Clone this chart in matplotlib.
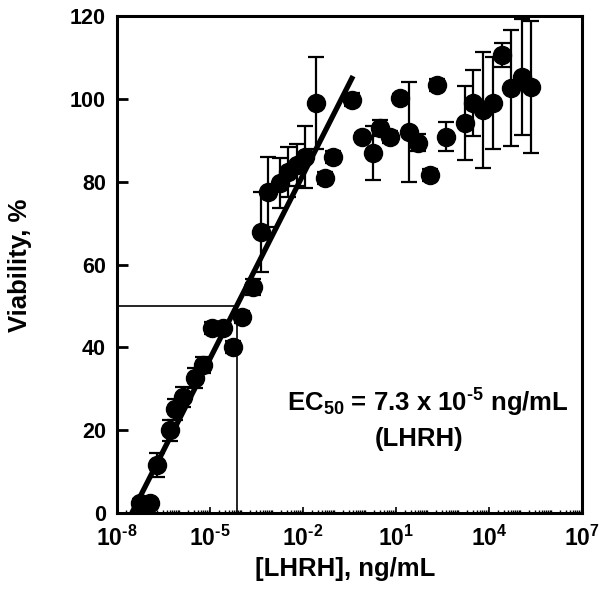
import matplotlib
matplotlib.use("Agg")
import matplotlib.pyplot as plt
from matplotlib.ticker import LogLocator, FixedLocator, NullFormatter

plt.rcParams['font.family'] = ['Liberation Sans', 'DejaVu Sans']
plt.rcParams['font.weight'] = 'bold'
plt.rcParams['mathtext.fontset'] = 'custom'
plt.rcParams['mathtext.rm'] = 'Liberation Sans:bold'
plt.rcParams['mathtext.it'] = 'Liberation Sans:bold'
plt.rcParams['mathtext.bf'] = 'Liberation Sans:bold'

conc = [5.5e-8, 1.15e-7, 1.95e-7, 5.1e-7, 7.4e-7, 1.35e-6, 3.3e-6, 5.9e-6, 1.15e-5, 2.6e-5,
        5.5e-5, 1.07e-4, 2.45e-4, 4.5e-4, 7.4e-4, 1.8e-3, 3.3e-3, 6.5e-3, 1.15e-2, 2.6e-2,
        5.1e-2, 9.3e-2, 0.38, 0.79, 1.8, 3.0, 6.5, 13.5, 26, 51,
        126, 209, 407, 1700, 3020, 6460, 13500, 26300, 51300, 115000, 224000]
viability = [2.5, 2.5, 11.6, 20, 25, 28, 32.6, 35.7, 44.7, 44.7,
             40.1, 47.3, 54.6, 67.9, 77.5, 79.7, 82.4, 84, 86, 99,
             80.9, 86, 99.8, 90.8, 87, 93, 90.8, 100.2, 92, 89.4,
             81.6, 103.4, 90.8, 94.2, 99, 97.3, 99, 110.6, 102.7, 105.3, 102.9]
errors = [1, 1, 3, 2.5, 2.5, 2.5, 2.5, 2, 1.5, 1.5,
          1.5, 1.5, 2, 9.7, 8.5, 6, 6, 5, 7.5, 11,
          1.5, 1.5, 1.5, 1, 6.5, 2, 1.5, 1, 12, 2,
          1.5, 1.5, 3.5, 9, 8, 14, 11, 3, 14, 14, 16]

fit_x = [3.0e-8, 0.41]
fit_y = [0, 105.5]
ec50 = 7.3e-5
half = 50

xticks = [1e-8, 1e-5, 1e-2, 1e1, 1e4, 1e7]
xticklabels = [r'$10^{\text{-}8}$', r'$10^{\text{-}5}$', r'$10^{\text{-}2}$',
               r'$10^{1}$', r'$10^{4}$', r'$10^{7}$']
yticks = [0, 20, 40, 60, 80, 100, 120]

fig = plt.figure(figsize=(6.02, 5.97), dpi=100)
ax = fig.add_axes([0.1944, 0.1407, 0.7724, 0.8325])

ax.errorbar(conc, viability, yerr=errors, fmt='o', color='black', ms=13,
            ecolor='black', elinewidth=1.6, capsize=5.5, capthick=1.6, zorder=3)
ax.plot(fit_x, fit_y, color='black', lw=3.8, solid_capstyle='butt', zorder=4)
ax.plot([1e-8, ec50], [half, half], color='black', lw=1.2, zorder=2)
ax.plot([ec50, ec50], [0, half], color='black', lw=1.2, zorder=2)

ax.set_xscale('log')
ax.set_xlim(1e-8, 1e7)
ax.set_ylim(0, 120)
ax.xaxis.set_major_locator(FixedLocator(xticks))
ax.set_xticklabels(xticklabels)
ax.xaxis.set_minor_locator(LogLocator(base=10, subs=range(1, 10), numticks=100))
ax.xaxis.set_minor_formatter(NullFormatter())
ax.set_yticks(yticks)

for s in ax.spines.values():
    s.set_linewidth(2.2)

ax.tick_params(axis='x', which='major', direction='in', length=4, width=1.2,
               labelsize=16.5, pad=9)
ax.tick_params(axis='x', which='minor', direction='in', length=2.5, width=1.0)
ax.tick_params(axis='y', which='major', direction='in', length=8, width=2,
               labelsize=15.5, pad=8)

ax.set_xlabel('[LHRH], ng/mL', fontsize=18.5, fontweight='bold')
ax.xaxis.label.set_va('center')
ax.xaxis.set_label_coords(0.49, -0.112)
ax.set_ylabel('Viability, %', fontsize=18.5, fontweight='bold')
ax.yaxis.label.set_va('center')
ax.yaxis.set_label_coords(-0.208, 0.499)

ax.text(1.07e2, 26.6, r'EC$_{50}$ = 7.3 x 10$^{\text{-}5}$ ng/mL', fontsize=18.5,
        fontweight='bold', ha='center', va='center')
ax.text(55, 17.9, '(LHRH)', fontsize=18.5, fontweight='bold', ha='center', va='center')

fig.savefig('out.png', dpi=100)
